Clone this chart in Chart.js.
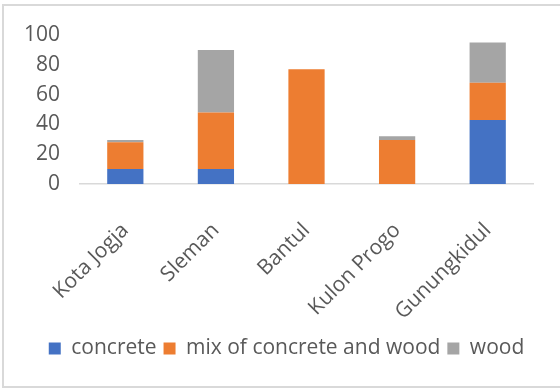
<!DOCTYPE html>
<html>
<head>
<meta charset="utf-8">
<script src="https://cdn.jsdelivr.net/npm/chart.js@4"></script>
<style>
  html, body { margin: 0; padding: 0; background: #fff; overflow: hidden; }
  #frame { position: absolute; left: 2px; top: 4px; width: 600px; height: 384px; border: 2px solid #d9d9d9; box-sizing: border-box; }
  #wrap { position: absolute; left: 0; top: 0; width: 560px; height: 389px; }
</style>
</head>
<body>
<div id="frame"></div>
<div id="wrap"><canvas id="chart"></canvas></div>
<script>
const categories = ["Kota Jogja", "Sleman", "Bantul", "Kulon Progo", "Gunungkidul"]
const concrete = [10, 10, 0, 0, 43]
const mixConcreteWood = [18, 38, 77, 29.5, 25]
const wood = [1.5, 42, 0, 2.5, 27]
const yTicks = [0, 20, 40, 60, 80, 100]

const textColor = '#595959'
const fontFamily = '"Open Sans", sans-serif'

// legend in the reference sits a bit right of the canvas centre
const legendShift = {
    id: 'legendShift',
    afterLayout(chart) {
        chart.legend.left += 18
        chart.legend.right += 18
        chart.legend.top -= 2
        chart.legend.bottom -= 2
    }
}

new Chart(document.getElementById('chart'), {
    type: 'bar',
    data: {
        labels: categories,
        datasets: [
            { label: 'concrete', data: concrete, backgroundColor: '#4472c4' },
            { label: 'mix of concrete and wood', data: mixConcreteWood, backgroundColor: '#ed7d31' },
            { label: 'wood', data: wood, backgroundColor: '#a5a5a5' }
        ]
    },
    options: {
        responsive: true,
        maintainAspectRatio: false,
        animation: false,
        layout: { padding: { left: 4, right: 27, top: 35, bottom: 18 } },
        datasets: { bar: { categoryPercentage: 0.4, barPercentage: 1 } },
        plugins: {
            legend: {
                position: 'bottom',
                labels: {
                    color: textColor,
                    font: { family: fontFamily, size: 21 },
                    boxWidth: 12,
                    boxHeight: 12,
                    padding: 7
                }
            },
            tooltip: { enabled: false }
        },
        scales: {
            x: {
                stacked: true,
                grid: { display: false, drawTicks: false },
                border: { color: '#d9d9d9', width: 1.5 },
                afterFit: (scale) => {
                    scale.paddingLeft = 0
                    scale.paddingRight = 0
                    scale.height = 149
                },
                ticks: {
                    color: textColor,
                    font: { family: fontFamily, size: 21 },
                    minRotation: 45,
                    maxRotation: 45,
                    autoSkip: false,
                    padding: 34
                }
            },
            y: {
                stacked: true,
                min: 0,
                max: 100,
                afterBuildTicks: (axis) => { axis.ticks = yTicks.map(v => ({ value: v })) },
                grid: { display: false, drawTicks: false },
                border: { display: false },
                ticks: {
                    color: textColor,
                    font: { family: fontFamily, size: 21 },
                    autoSkip: false,
                    padding: 20
                }
            }
        }
    },
    plugins: [legendShift]
})
</script>
</body>
</html>
